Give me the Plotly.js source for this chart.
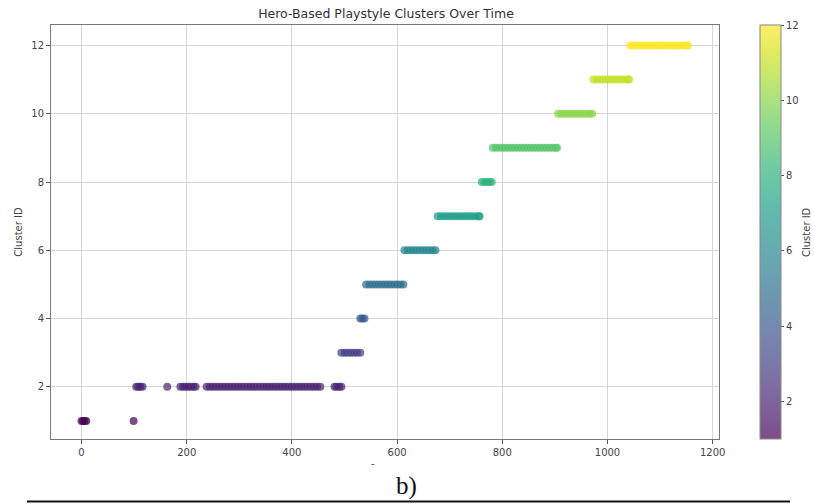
<!DOCTYPE html>
<html>
<head>
<meta charset="utf-8">
<script src="https://cdn.plot.ly/plotly-3.0.1.min.js"></script>
<style>
html,body{margin:0;padding:0;background:#fff;}
#chart{width:814px;height:504px;}
</style>
</head>
<body>
<div id="chart"></div>
<script>
// Time (match index) of points in each cluster
var cluster1 = [0, 3, 6, 9, 99];
var cluster2 = [104, 108, 112, 116, 163, 188, 193, 198, 203, 208, 213, 217, 238, 244, 250, 256, 262, 268, 274, 280, 286, 292, 298, 304, 310, 316, 322, 328, 334, 340, 346, 352, 358, 364, 370, 376, 382, 388, 394, 400, 406, 412, 418, 424, 430, 436, 442, 448, 454, 481, 485, 490, 494];
var cluster3 = [494, 500, 506, 512, 518, 524, 530];
var cluster4 = [530, 534, 538];
var cluster5 = [541, 547, 553, 559, 565, 571, 577, 583, 589, 595, 601, 607, 612];
var cluster6 = [614, 620, 626, 632, 638, 644, 650, 656, 662, 668, 673];
var cluster7 = [677, 683, 689, 695, 701, 707, 713, 719, 725, 731, 737, 743, 749, 755, 757];
var cluster8 = [761, 766, 771, 776, 780];
var cluster9 = [782, 788, 794, 800, 806, 812, 818, 824, 830, 836, 842, 848, 854, 860, 866, 872, 878, 884, 890, 896, 902, 904];
var cluster10 = [906, 912, 918, 924, 930, 936, 942, 948, 954, 960, 966, 971];
var cluster11 = [973, 979, 985, 991, 997, 1003, 1009, 1015, 1021, 1027, 1033, 1039, 1041];
var cluster12 = [1043, 1049, 1055, 1061, 1067, 1073, 1079, 1085, 1091, 1097, 1103, 1109, 1115, 1121, 1127, 1133, 1139, 1145, 1151, 1153];

var clusterIds = [1, 2, 3, 4, 5, 6, 7, 8, 9, 10, 11, 12];
var clusterTimes = [cluster1, cluster2, cluster3, cluster4, cluster5, cluster6, cluster7, cluster8, cluster9, cluster10, cluster11, cluster12];

var xTickVals = [0, 200, 400, 600, 800, 1000, 1200];
var yTickVals = [2, 4, 6, 8, 10, 12];

// viridis with alpha 0.7 (as in a matplotlib scatter with alpha)
var viridisHex = ['#440154','#48186a','#472d7b','#424086','#3b528b','#33638d','#2c728e','#26828e','#21918c','#1fa088','#28ae80','#3fbc73','#5ec962','#84d44b','#addc30','#d8e219','#fde725'];
function hexA(h, a){
  return 'rgba(' + parseInt(h.substr(1,2),16) + ',' + parseInt(h.substr(3,2),16) + ',' + parseInt(h.substr(5,2),16) + ',' + a + ')';
}
var scale = viridisHex.map(function(h, i){ return [i/(viridisHex.length-1), hexA(h, 0.7)]; });

var xs = [], ys = [];
clusterTimes.forEach(function(arr, i){
  arr.forEach(function(t){ xs.push(t); ys.push(clusterIds[i]); });
});

var tickFont = {family: 'DejaVu Sans', size: 10, color: '#444'};

var trace = {
  type: 'scatter',
  mode: 'markers',
  x: xs,
  y: ys,
  marker: {
    size: 8,
    color: ys,
    colorscale: scale,
    cmin: 1,
    cmax: 12,
    line: {width: 0},
    colorbar: {
      x: 1.0614,
      xanchor: 'left',
      y: 0.5,
      yanchor: 'middle',
      len: 1.0,
      lenmode: 'fraction',
      thickness: 21,
      xpad: 0,
      ypad: 0,
      outlinecolor: '#888',
      outlinewidth: 1,
      tickvals: yTickVals,
      ticks: 'outside',
      ticklen: 3,
      tickcolor: '#555',
      tickfont: tickFont
    }
  },
  hoverinfo: 'x+y',
  showlegend: false
};

var layout = {
  width: 814,
  height: 504,
  margin: {l: 51, r: 95, t: 25, b: 65},
  paper_bgcolor: '#fff',
  plot_bgcolor: '#fff',
  title: {
    text: 'Hero-Based Playstyle Clusters Over Time',
    x: 386/814, xanchor: 'center', xref: 'container',
    y: 1 - 14/504, yref: 'container', yanchor: 'middle',
    font: {family: 'DejaVu Sans', size: 12.5, color: '#333'}
  },
  xaxis: {
    range: [-58, 1212],
    tickvals: xTickVals,
    ticks: 'outside', ticklen: 4, tickcolor: '#555',
    showgrid: true, gridcolor: '#d6d6d6', gridwidth: 1,
    showline: true, linecolor: '#777', linewidth: 1, mirror: true,
    zeroline: false, automargin: false,
    tickfont: tickFont
  },
  yaxis: {
    range: [0.47, 12.6],
    tickvals: yTickVals,
    ticks: 'outside', ticklen: 4, tickcolor: '#555',
    showgrid: true, gridcolor: '#d6d6d6', gridwidth: 1,
    showline: true, linecolor: '#777', linewidth: 1, mirror: true,
    zeroline: false, automargin: false,
    tickfont: tickFont,
    title: {text: 'Cluster ID', standoff: 6, font: {family: 'DejaVu Sans', size: 10, color: '#444'}}
  },
  annotations: [
    {text: 'Cluster ID', xref: 'paper', yref: 'paper', x: (806-51)/668, y: 0.5, textangle: -90, showarrow: false,
     font: {family: 'DejaVu Sans', size: 10, color: '#444'}, xanchor: 'center', yanchor: 'middle'},
    {text: '-', xref: 'paper', yref: 'paper', x: (373-51)/668, y: (439-463)/414, showarrow: false,
     font: {family: 'DejaVu Sans', size: 10, color: '#444'}, xanchor: 'center', yanchor: 'middle'},
    {text: 'b)', xref: 'paper', yref: 'paper', x: (406-51)/668, y: (439-486)/414, showarrow: false,
     font: {family: 'Liberation Serif', size: 25, color: '#111'}, xanchor: 'center', yanchor: 'middle'}
  ],
  shapes: [
    {type: 'line', xref: 'paper', yref: 'paper', x0: (27-51)/668, x1: (790-51)/668,
     y0: (439-501.5)/414, y1: (439-501.5)/414, line: {color: '#111', width: 2}}
  ]
};

Plotly.newPlot('chart', [trace], layout, {displayModeBar: false, staticPlot: true});
</script>
</body>
</html>
